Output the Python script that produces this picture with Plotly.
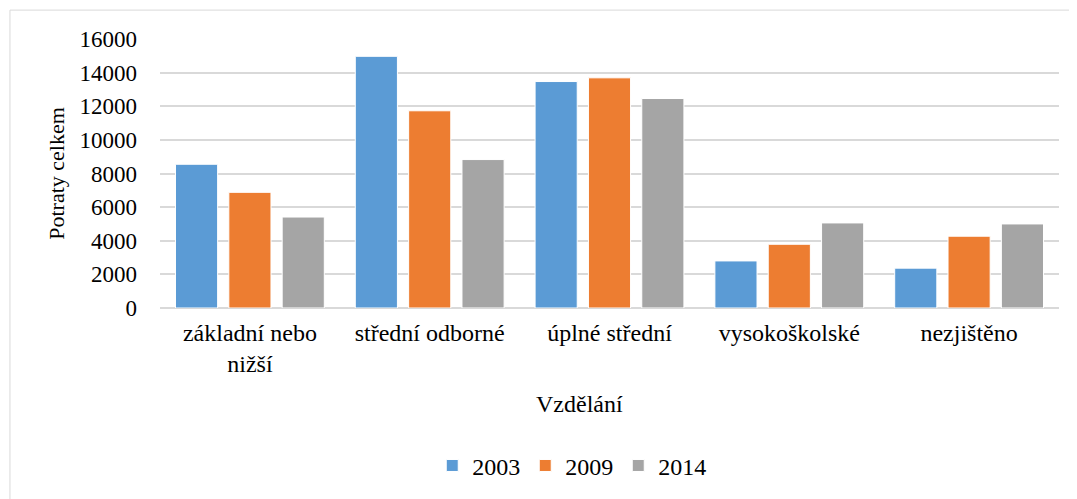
import plotly.graph_objects as go

# kategorie vzdělání a hodnoty za roky
kategorie = ['základní nebo<br>nižší', 'střední odborné', 'úplné střední', 'vysokoškolské', 'nezjištěno']
roky = ['2003', '2009', '2014']
potraty_2003 = [8550, 14970, 13470, 2800, 2370]
potraty_2009 = [6880, 11730, 13690, 3790, 4270]
potraty_2014 = [5410, 8830, 12460, 5060, 5000]
barvy = ['#5B9BD5', '#ED7D31', '#A5A5A5']
y_ticky = [0, 2000, 4000, 6000, 8000, 10000, 12000, 14000, 16000]

font = 'Liberation Serif'

def pismo(size):
    return dict(family=font, size=size, color='black')

fig = go.Figure()
for rok, hodnoty, barva in zip(roky, [potraty_2003, potraty_2009, potraty_2014], barvy):
    fig.add_trace(go.Bar(x=kategorie, y=hodnoty, name=rok,
                         marker=dict(color=barva, line=dict(color='white', width=1))))

# stránka má okraj 8 px, proto posunuté okraje
fig.update_layout(
    width=1069, height=491,
    margin=dict(l=152, r=18, t=31, b=190),
    paper_bgcolor='white', plot_bgcolor='white',
    barmode='group', bargap=0.11, bargroupgap=0.21,
    font=pismo(22),
    showlegend=True,
    legend=dict(orientation='h', x=0.458, xanchor='center', y=-0.581, yanchor='middle',
                font=pismo(24), itemwidth=30, traceorder='normal'),
    shapes=[dict(type='rect', xref='paper', yref='paper',
                 x0=-0.1669, x1=1.03, y0=-0.75, y1=1.1074,
                 line=dict(color='#d9d9d9', width=1))],
    # název osy x je v originále vystředěný na celý graf, ne na plochu
    annotations=[dict(text='Vzdělání', xref='paper', yref='paper', x=0.4666, y=-0.356,
                      xanchor='center', yanchor='middle', showarrow=False, font=pismo(24))],
)
fig.update_xaxes(showgrid=False, showline=False, ticks='', tickfont=pismo(24), ticklabelstandoff=8)
fig.update_yaxes(range=[0, 16000], tickvals=y_ticky, tickformat='d', showgrid=True, gridcolor='#d9d9d9',
                 gridwidth=1.5, zeroline=True, zerolinecolor='#d9d9d9', zerolinewidth=1.5,
                 tickfont=pismo(23), ticks='', ticklabelstandoff=22,
                 title=dict(text='Potraty celkem', font=pismo(22), standoff=8))

fig.write_html('out.html')
